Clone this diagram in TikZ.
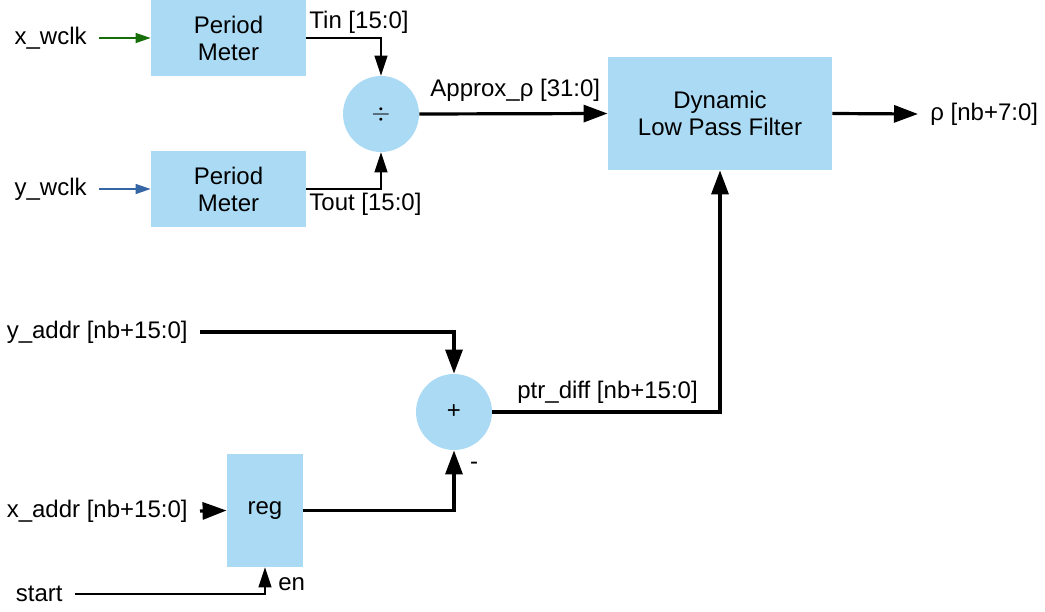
\documentclass[tikz,border=0pt]{standalone}
\usepackage{fontspec}
\setmainfont{Liberation Sans}
\usepackage{tikz}
\usetikzlibrary{calc,positioning,arrows.meta}

\definecolor{boxblue}{RGB}{171,218,245}
\definecolor{clkgreen}{RGB}{22,110,8}
\definecolor{clkblue}{RGB}{52,101,164}

\tikzset{
  blk/.style={fill=boxblue,draw=none,align=center,inner sep=0pt},
  opcirc/.style={circle,fill=boxblue,draw=none,minimum size=38pt,inner sep=0pt},
  lbl/.style={inner sep=6pt},
  bus/.style={line width=1.6pt,-{Triangle[length=12pt,width=8.5pt]}},
  sig/.style={line width=0.6pt,-{Triangle[length=10pt,width=6.5pt]}},
  clk/.style={line width=0.6pt,-{Triangle[length=7.5pt,width=5pt]}},
}

\begin{document}
\begin{tikzpicture}[x=0.5pt,y=-0.5pt,font=\fontsize{12}{13.5}\selectfont]
\useasboundingbox (0,0) rectangle (1045,611);

% blocks
\node[blk,minimum width=77.5pt,minimum height=38pt] (pmx) at (228.5,38) {Period\\Meter};
\node[blk,minimum width=77.5pt,minimum height=38pt] (pmy) at (228.5,189) {Period\\Meter};
\node[opcirc] (div) at (381,114) {$\div$};
\node[blk,minimum width=112pt,minimum height=56.5pt] (lpf) at (720,113.5) {Dynamic\\Low Pass Filter};
\node[opcirc] (add) at (454,412) {+};
\node[blk,minimum width=38pt,minimum height=56.5pt] (reg) at (265,510.5) {reg};

% inputs and outputs
\node[lbl,anchor=east] (xw) at (99,38) {x\_wclk};
\node[lbl,anchor=east] (yw) at (99,189) {y\_wclk};
\node[lbl,anchor=west] (rho) at (918,114) {ρ [nb+7:0]};
\node[lbl,anchor=east] (ya) at (200,332) {y\_addr [nb+15:0]};
\node[lbl,anchor=east] (xa) at (200,511) {x\_addr [nb+15:0]};
\node[lbl,anchor=east] (st) at (75,594) {start};

% signal names
\node[anchor=west,inner sep=0pt] at (309,22) {Tin [15:0]};
\node[anchor=west,inner sep=0pt] at (309,204) {Tout [15:0]};
\node[anchor=west,inner sep=0pt] at (430,90) {Approx\_ρ [31:0]};
\node[anchor=west,inner sep=0pt] at (517,392) {ptr\_diff [nb+15:0]};
\node[inner sep=0pt] at (474,466) {-};
\node[anchor=west,inner sep=0pt] at (278,584) {en};

% connections
\draw[clk,clkgreen] (xw.east) -- (pmx.west);
\draw[clk,clkblue] (yw.east) -- (pmy.west);
\draw[sig] (pmx.east) -| (div.north);
\draw[sig] (pmy.east) -| (div.south);
\draw[bus] (div.east) -- (lpf.west);
\draw[bus] (lpf.east) -- (rho.west);
\draw[bus] (ya.east) -| (add.north);
\draw[bus] (xa.east) -- (reg.west);
\draw[bus] (reg.east) -| (add.south);
\draw[bus] (add.east) -| (lpf.south);
\draw[sig] (st.east) -| (reg.south);

\end{tikzpicture}
\end{document}
